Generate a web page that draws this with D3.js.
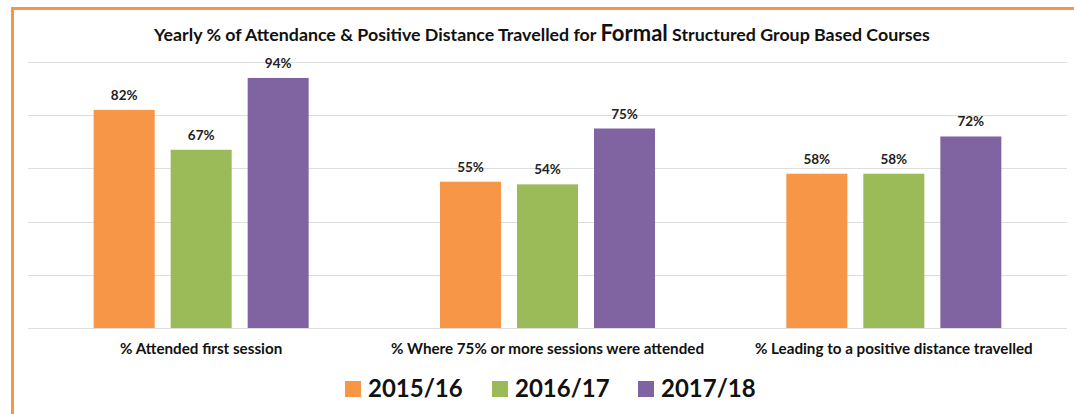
<!DOCTYPE html>
<html>
<head>
<meta charset="utf-8">
<script src="https://cdn.jsdelivr.net/npm/d3@7"></script>
<style>
  body { margin: 0; background: #fff; }
  svg { display: block; font-family: Lato, "Open Sans", sans-serif; }
</style>
</head>
<body>
<script>
var width = 1074;
var height = 414;

var categories = [
  '% Attended first session',
  '% Where 75% or more sessions were attended',
  '% Leading to a positive distance travelled'
];
var seriesNames = ['2015/16', '2016/17', '2017/18'];
var seriesColors = ['#F79646', '#9BBB59', '#8064A2'];
var values2015 = [82, 55, 58];
var values2016 = [67, 54, 58];
var values2017 = [94, 75, 72];
var yTicks = [0, 20, 40, 60, 80, 100];

var seriesValues = [values2015, values2016, values2017];

var margin = {left: 28, right: 7, top: 62, bottom: 86};

var svg = d3.select('body').append('svg')
  .attr('width', width)
  .attr('height', height);

// orange frame (left + top edge visible)
svg.append('path')
  .attr('d', 'M12.5,' + height + ' V8.5 H' + width)
  .attr('fill', 'none')
  .attr('stroke', '#F79646')
  .attr('stroke-width', 3);

var x0 = d3.scaleBand()
  .domain(categories)
  .range([margin.left, width - margin.right]);

var y = d3.scaleLinear()
  .domain([0, 100])
  .range([height - margin.bottom, margin.top]);

// gridlines
svg.append('g').selectAll('line')
  .data(yTicks)
  .enter().append('line')
  .attr('x1', margin.left)
  .attr('x2', width - margin.right)
  .attr('y1', d => Math.round(y(d)) + 0.5)
  .attr('y2', d => Math.round(y(d)) + 0.5)
  .attr('stroke', '#dedede')
  .attr('stroke-width', 1);

// bars
var groupW = 215;
var groups = svg.append('g').selectAll('g')
  .data(categories)
  .enter().append('g');

groups.each(function(cat, ci) {
  var c = x0(cat) + x0.bandwidth() / 2;
  var x1 = d3.scaleBand()
    .domain(seriesNames)
    .range([c - groupW / 2, c + groupW / 2])
    .paddingInner(16 / 77);
  var g = d3.select(this);
  var data = seriesNames.map((s, si) => ({s: s, v: seriesValues[si][ci], color: seriesColors[si]}));

  g.selectAll('rect')
    .data(data)
    .enter().append('rect')
    .attr('x', d => x1(d.s))
    .attr('width', x1.bandwidth())
    .attr('y', d => y(d.v))
    .attr('height', d => y(0) - y(d.v))
    .attr('fill', d => d.color);

  g.selectAll('text')
    .data(data)
    .enter().append('text')
    .attr('x', d => x1(d.s) + x1.bandwidth() / 2)
    .attr('y', d => y(d.v) - 10)
    .attr('text-anchor', 'middle')
    .attr('font-size', 13.5)
    .attr('font-weight', 'bold')
    .attr('fill', '#222')
    .text(d => d.v + '%');
});

// category axis labels
var xAxis = d3.axisBottom(x0).tickSize(0).tickPadding(15);
var ax = svg.append('g')
  .attr('transform', 'translate(0,' + y(0) + ')')
  .call(xAxis);
ax.select('.domain').remove();
ax.selectAll('text')
  .attr('font-family', 'Lato, sans-serif')
  .attr('font-size', 15.2)
  .attr('font-weight', 'bold')
  .attr('fill', '#111');

// title
var title = svg.append('text')
  .attr('x', 542)
  .attr('y', 41)
  .attr('text-anchor', 'middle')
  .attr('font-weight', 'bold')
  .attr('font-size', 17.8)
  .attr('fill', '#111');
title.append('tspan').text('Yearly % of Attendance & Positive Distance Travelled for ');
title.append('tspan').attr('font-size', 22).text('Formal');
title.append('tspan').text(' Structured Group Based Courses');

// legend
var legendX = [345, 492, 638];
var legend = svg.append('g').selectAll('g')
  .data(seriesNames)
  .enter().append('g')
  .attr('transform', (d, i) => 'translate(' + legendX[i] + ',381)');
legend.append('rect')
  .attr('width', 16)
  .attr('height', 16)
  .attr('fill', (d, i) => seriesColors[i]);
legend.append('text')
  .attr('x', 23)
  .attr('y', 16)
  .attr('font-size', 24)
  .attr('font-weight', 'bold')
  .attr('fill', '#111')
  .text(d => d);
</script>
</body>
</html>
